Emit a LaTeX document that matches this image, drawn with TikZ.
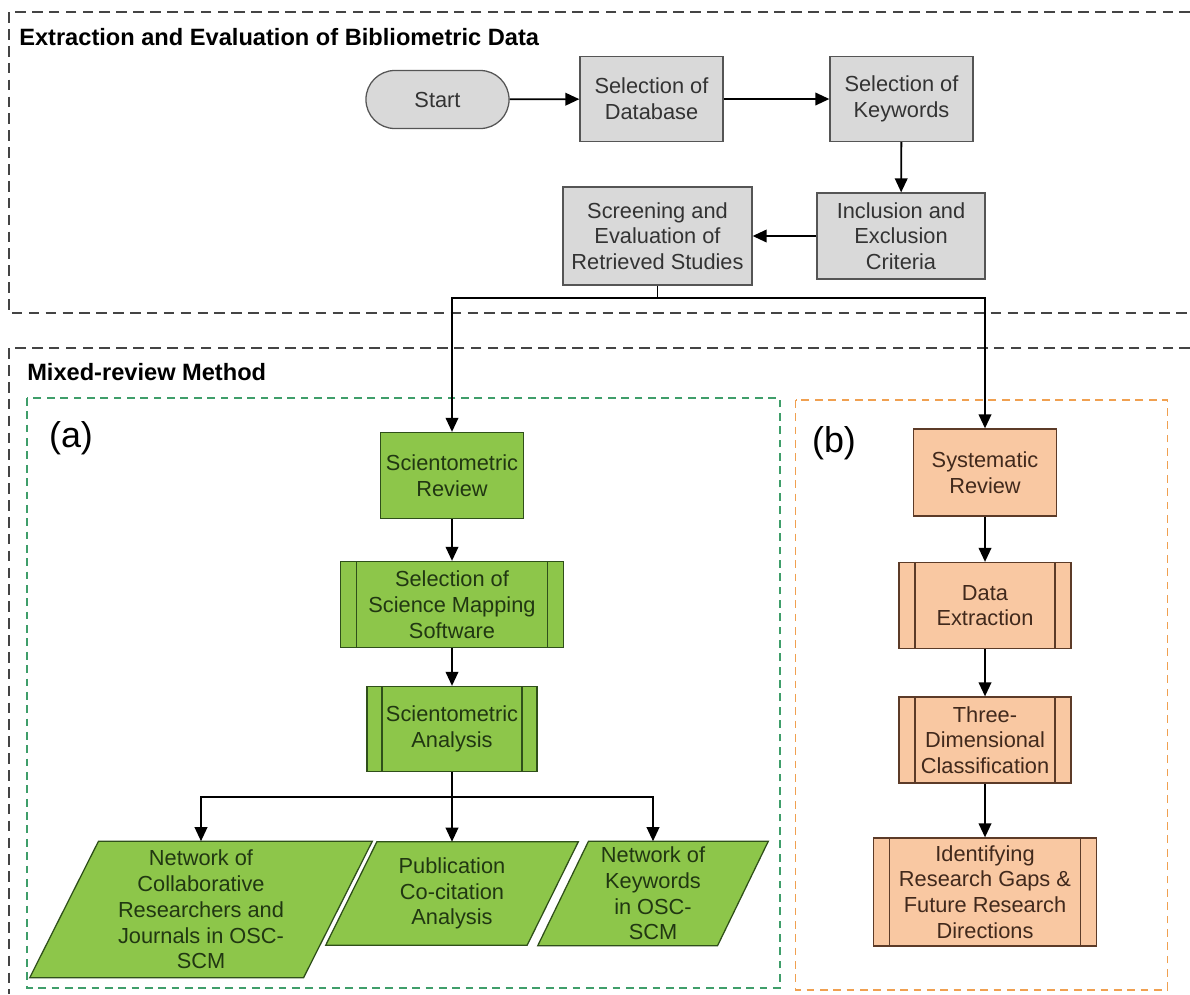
\documentclass[tikz,border=0pt]{standalone}
\usepackage{fontspec}
\setmainfont{Liberation Sans}
\usetikzlibrary{arrows.meta,backgrounds}
\definecolor{boxgray}{HTML}{D9D9D9}
\definecolor{linegray}{HTML}{555555}
\definecolor{mygreen}{HTML}{8DC64A}
\definecolor{darkgreen}{HTML}{2F4F1A}
\definecolor{myorange}{HTML}{F9C8A2}
\definecolor{darkbrown}{HTML}{5C3B28}
\definecolor{framegreen}{HTML}{3F9E6A}
\definecolor{frameorange}{HTML}{F0A050}
\definecolor{frameblack}{HTML}{444444}

\begin{document}
\begin{tikzpicture}[x=0.025cm, y=-0.025cm,
    txt/.style={align=center, font=\fontsize{15.5}{18.3}\selectfont, inner sep=0pt},
    graybox/.style={txt, draw=linegray, fill=boxgray, text=black!80, line width=0.9pt},
    greenbox/.style={txt, draw=darkgreen, fill=mygreen, text=darkgreen!70!black, line width=0.9pt},
    orangebox/.style={txt, draw=darkbrown, fill=myorange, text=darkbrown!70!black, line width=0.9pt},
    subproc/.style 2 args={path picture={
        \draw[#2, line width=0.9pt] ([xshift=#1]path picture bounding box.north west) -- ([xshift=#1]path picture bounding box.south west);
        \draw[#2, line width=0.9pt] ([xshift=-#1]path picture bounding box.north east) -- ([xshift=-#1]path picture bounding box.south east);}},
    dataout/.style={txt, text=darkgreen!70!black},
    datashape/.style={draw=darkgreen, fill=mygreen, line width=0.9pt, line join=miter},
    arr/.style={line width=1.3pt, -{Triangle[length=10pt, width=9pt]}},
    link/.style={line width=1.3pt},
    frame/.style={dash pattern=on 7.5pt off 4.5pt, line width=1.3pt, draw=frameblack},
    subframe/.style={dash pattern=on 5.5pt off 4pt, line width=1pt},
    heading/.style={anchor=base west, inner sep=0pt, font=\fontsize{16.8}{20}\selectfont\bfseries},
    partlabel/.style={inner sep=0pt, font=\fontsize{25.5}{30}\selectfont}]
    \useasboundingbox (0,0) rectangle (1190,994);

    \draw[frame] (1190,12) -- (9,12) -- (9,313) -- (1190,313);
    \draw[frame] (1190,348) -- (9,348) -- (9,994);
    \draw[subframe, framegreen] (27,398) rectangle (780,988);
    \draw[subframe, frameorange] (795.5,400) rectangle (1167.5,990);

    \node[heading] (title1) at (19,45) {Extraction and Evaluation of Bibliometric Data};
    \node[heading] (title2) at (27,380) {Mixed-review Method};
    \node[partlabel] (labela) at (71,438) {(a)};
    \node[partlabel] (labelb) at (834,443) {(b)};

    \node[graybox, rounded corners=0.72cm, minimum width=3.575cm, minimum height=1.45cm] (start) at (437.5,99.5) {Start};
    \node[graybox, minimum width=3.575cm, minimum height=2.125cm] (database) at (651.5,99) {Selection of\\Database};
    \node[graybox, minimum width=3.575cm, minimum height=2.125cm] (keywords) at (901.5,99) {Selection of\\Keywords};
    \node[graybox, minimum width=4.2cm, minimum height=2.15cm] (criteria) at (901,236) {Inclusion and\\Exclusion\\Criteria};
    \node[graybox, minimum width=4.725cm, minimum height=2.45cm] (screening) at (657.5,236) {Screening and\\Evaluation of\\Retrieved Studies};

    \node[greenbox, minimum width=3.575cm, minimum height=2.15cm] (scirev) at (452,475.5) {Scientometric\\Review};
    \node[greenbox, subproc={0.4cm}{darkgreen}, minimum width=5.575cm, minimum height=2.15cm] (software) at (452,604.5) {Selection of\\Science Mapping\\Software};
    \node[greenbox, subproc={0.375cm}{darkgreen}, minimum width=4.25cm, minimum height=2.125cm] (scian) at (452,729) {Scientometric\\Analysis};
    \node[dataout, minimum width=8.55cm, minimum height=3.4cm] (collab) at (201,909.5) {Network of\\Collaborative\\Researchers and\\Journals in OSC-\\SCM};
    \node[dataout, minimum width=6.3cm, minimum height=2.575cm] (cocite) at (452,893.5) {Publication\\Co-citation\\Analysis};
    \node[dataout, minimum width=5.75cm, minimum height=2.6cm] (kwnet) at (653,893.5) {Network of\\Keywords\\in OSC-\\SCM};
    \begin{scope}[on background layer]
        \foreach \n/\s in {collab/1.72cm, cocite/1.28cm, kwnet/1.27cm}
            \draw[datashape] ([xshift=\s]\n.north west) -- (\n.north east) -- ([xshift=-\s]\n.south east) -- (\n.south west) -- cycle;
    \end{scope}

    \node[orangebox, minimum width=3.575cm, minimum height=2.175cm] (sysrev) at (985,472.5) {Systematic\\Review};
    \node[orangebox, subproc={0.4cm}{darkbrown}, minimum width=4.3cm, minimum height=2.15cm] (extract) at (985,605.5) {Data\\Extraction};
    \node[orangebox, subproc={0.4cm}{darkbrown}, minimum width=4.3cm, minimum height=2.15cm] (classify) at (985,740) {Three-\\Dimensional\\Classification};
    \node[orangebox, subproc={0.4cm}{darkbrown}, minimum width=5.575cm, minimum height=2.7cm] (gaps) at (985,892) {Identifying\\Research Gaps \&\\Future Research\\Directions};

    \coordinate (split) at (657.5,298);
    \coordinate (fork) at (452,797);

    \draw[arr] (start) -- (database);
    \draw[arr] (database) -- (keywords);
    \draw[arr] (keywords) -- (criteria);
    \draw[arr] (criteria) -- (screening);
    \draw[link] (screening) -- (split);
    \draw[arr] (split) -| (scirev);
    \draw[arr] (split) -| (sysrev);
    \draw[arr] (scirev) -- (software);
    \draw[arr] (software) -- (scian);
    \draw[link] (scian) -- (fork);
    \draw[arr] (fork) -| (collab);
    \draw[arr] (fork) -- (cocite);
    \draw[arr] (fork) -| (kwnet);
    \draw[arr] (sysrev) -- (extract);
    \draw[arr] (extract) -- (classify);
    \draw[arr] (classify) -- (gaps);
\end{tikzpicture}
\end{document}
